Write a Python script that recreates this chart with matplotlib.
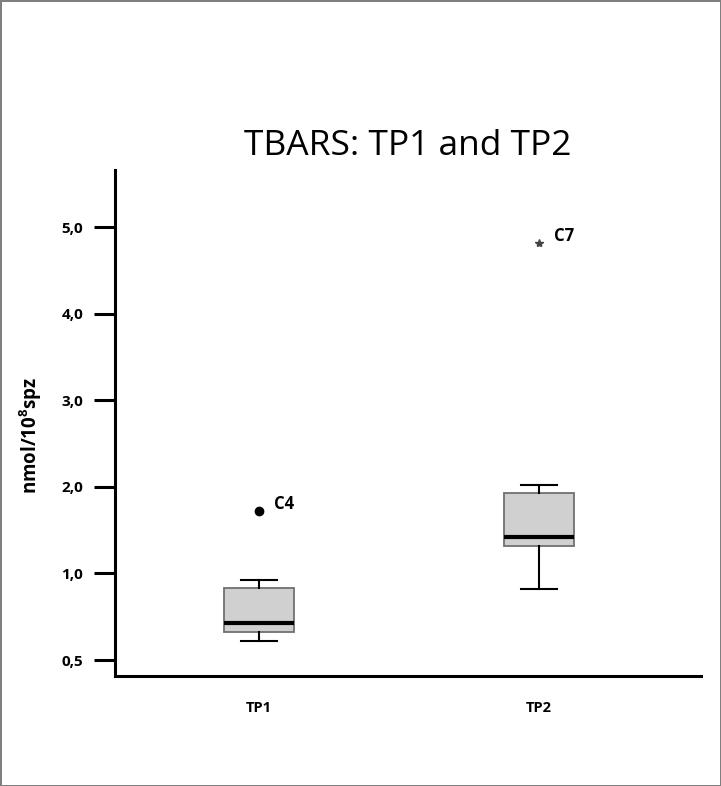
import matplotlib.pyplot as plt

# --- Data (y positions on the drawn scale) ---
groups = ['TP1', 'TP2']
whislo = [0.22, 0.82]
q1 = [0.32, 1.32]
med = [0.43, 1.42]
q3 = [0.83, 1.93]
whishi = [0.92, 2.02]
outliers = [1.72, 4.82]
outlier_ids = ['C4', 'C7']
outlier_marks = ['o', '*']

ytick_pos = [0, 1, 2, 3, 4, 5]
ytick_labels = ['0,5', '1,0', '2,0', '3,0', '4,0', '5,0']

plt.rcParams['font.family'] = ['Open Sans', 'DejaVu Sans']
plt.rcParams['mathtext.fontset'] = 'custom'
plt.rcParams['mathtext.bf'] = 'Open Sans:bold'
plt.rcParams['mathtext.rm'] = 'Open Sans:bold'

fig = plt.figure(figsize=(7.21, 7.86), dpi=100, edgecolor='#7f7f7f', linewidth=2)
ax = fig.add_axes([0.1595, 0.1399, 0.8128, 0.6438])

stats = []
for i, g in enumerate(groups):
    stats.append({'label': g, 'whislo': whislo[i], 'q1': q1[i], 'med': med[i],
                  'q3': q3[i], 'whishi': whishi[i], 'fliers': [outliers[i]]})

pos = [1, 2]
bp = ax.bxp(stats, positions=pos, widths=0.25, patch_artist=True,
            boxprops=dict(facecolor='#d0d0d0', edgecolor='#707070', linewidth=1.3),
            medianprops=dict(color='black', linewidth=3),
            whiskerprops=dict(color='black', linewidth=1.5),
            capprops=dict(color='black', linewidth=1.5),
            capwidths=0.13)

for fl, m in zip(bp['fliers'], outlier_marks):
    if m == 'o':
        fl.set(marker='o', markerfacecolor='black', markeredgecolor='black', markersize=6)
    else:
        fl.set(marker='*', markerfacecolor='#444444', markeredgecolor='#444444', markersize=6)

for p, v, t in zip(pos, outliers, outlier_ids):
    ax.text(p + 0.055, v + 0.08, t, fontsize=12, fontweight='bold', va='center', ha='left')

ax.set_xlim(0.486, 2.579)
ax.set_ylim(-0.185, 5.66)
ax.set_yticks(ytick_pos)
ax.set_yticklabels(ytick_labels, fontsize=11, fontweight='bold')
ax.set_xticks(pos)
ax.set_xticklabels(groups, fontsize=10.5, fontweight='bold')
ax.tick_params(axis='y', length=15, width=2.2, pad=8, direction='out')
ax.tick_params(axis='x', length=0, pad=18)

for s in ['top', 'right']:
    ax.spines[s].set_visible(False)
for s in ['left', 'bottom']:
    ax.spines[s].set_linewidth(2.2)

ax.set_ylabel(r'nmol/10$^{\mathbf{8}}$spz', fontsize=13.5, fontweight='bold')
ax.yaxis.set_label_coords(-0.121, 0.476)
ax.set_title('TBARS: TP1 and TP2', fontsize=25.5, pad=11)

fig.savefig('out.png', dpi=100, edgecolor=fig.get_edgecolor())
